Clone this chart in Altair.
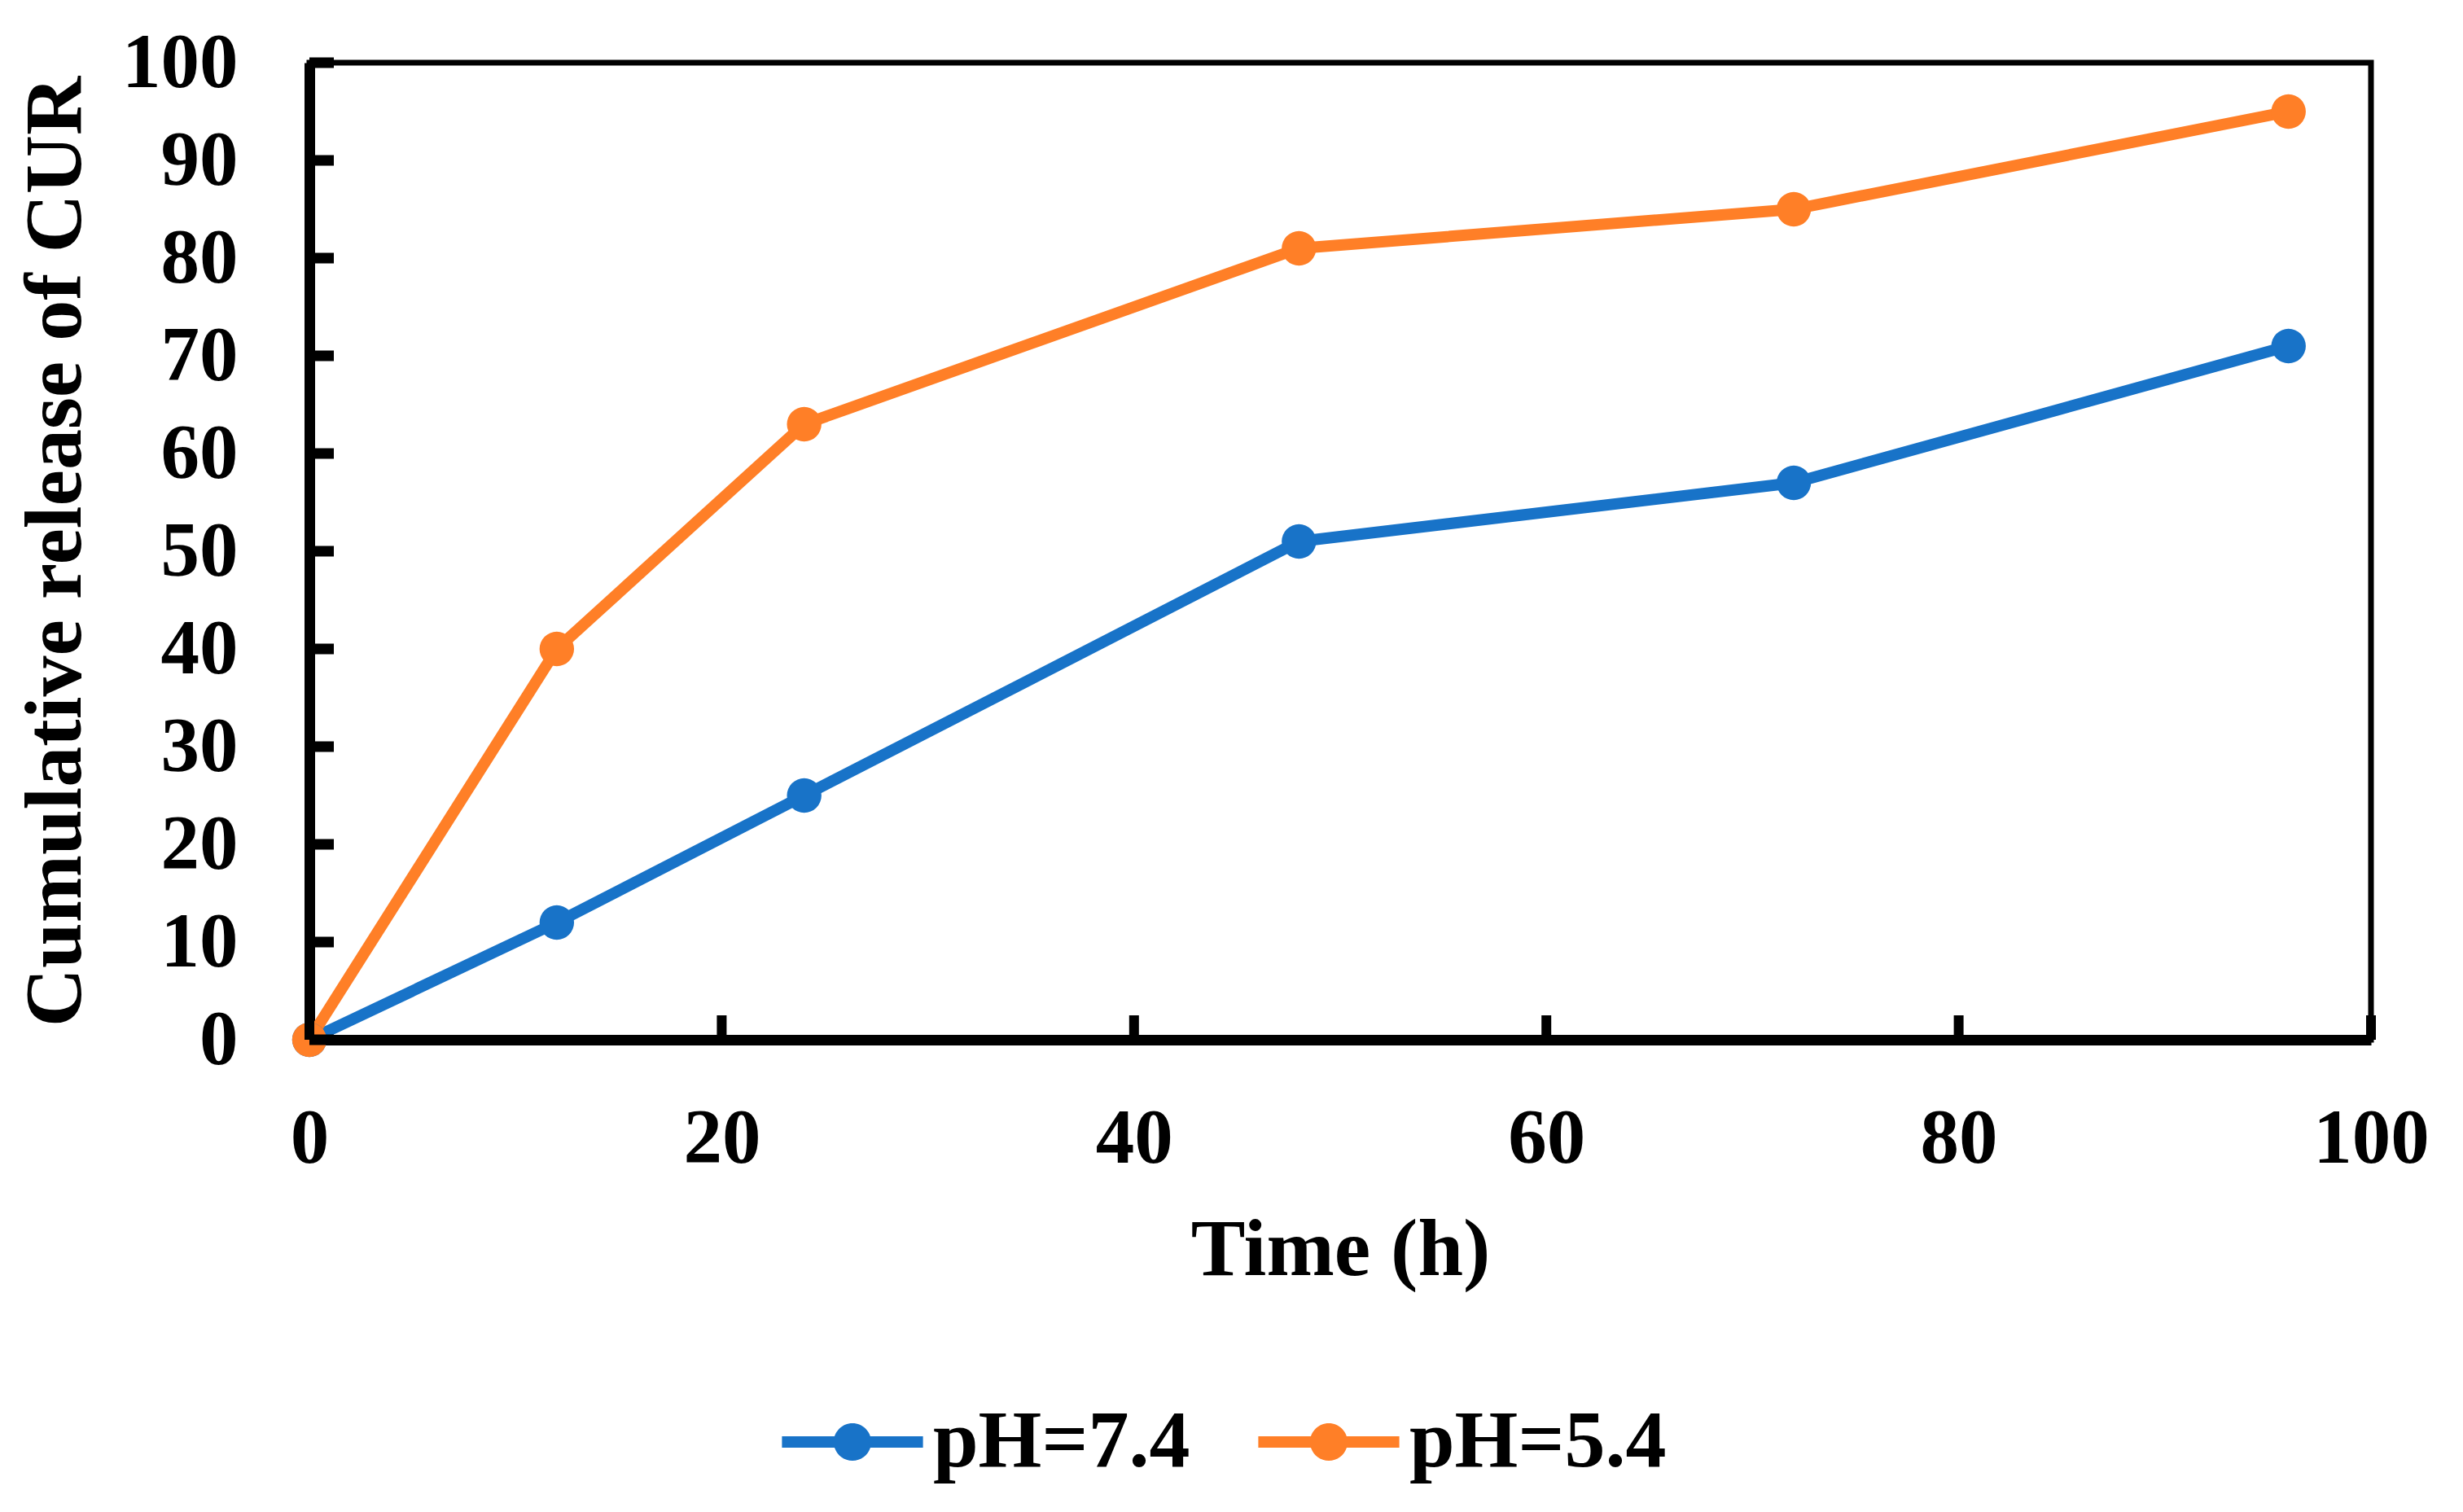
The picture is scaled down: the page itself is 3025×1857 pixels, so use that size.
import altair as alt
import pandas as pd

# ---- data ----
time_h = [0, 12, 24, 48, 72, 96]
release_ph74 = [0, 12, 25, 51, 57, 71]
release_ph54 = [0, 40, 63, 81, 85, 95]
series_names = ["pH=7.4", "pH=5.4"]
series_colors = ["#1873C8", "#FF7F27"]
x_ticks = [0, 20, 40, 60, 80, 100]
y_ticks = [0, 10, 20, 30, 40, 50, 60, 70, 80, 90, 100]

rows = []
for name, vals in zip(series_names, [release_ph74, release_ph54]):
    for t, v in zip(time_h, vals):
        rows.append({"Time": t, "Release": v, "Series": name})
df = pd.DataFrame(rows)

W, H = 2532, 1200
FONT = "Liberation Serif"

x_scale = alt.Scale(domain=[0, 100], nice=False, zero=False)
y_scale = alt.Scale(domain=[0, 100], nice=False)
color_scale = alt.Scale(domain=series_names, range=series_colors)

x_axis = alt.Axis(
    title="Time (h)", values=x_ticks, ticks=False, grid=False,
    labelPadding=75, titlePadding=40, domainWidth=13, domainColor="black",
    labelFontSize=95, titleFontSize=100, labelFont=FONT, titleFont=FONT,
    labelFontWeight="bold", titleFontWeight="bold",
    labelColor="black", titleColor="black", labelFlush=False, labelOverlap=False,
)
y_axis = alt.Axis(
    title="Cumulative release of CUR", values=y_ticks, ticks=False, grid=False,
    labelPadding=88, titlePadding=61, domainWidth=13, domainColor="black",
    labelFontSize=95, titleFontSize=100, labelFont=FONT, titleFont=FONT,
    labelFontWeight="bold", titleFontWeight="bold",
    labelColor="black", titleColor="black", labelFlush=False, labelOverlap=False,
)

legend_symbol = (
    "M-1,-0.08L1,-0.08L1,0.08L-1,0.08Z"
    "M-0.266,0A0.266,0.266 0 1,1 0.266,0A0.266,0.266 0 1,1 -0.266,0Z"
)

base = alt.Chart(df)

# one line layer per series, coloured from the series colour list
line_layers = []
for name, col in zip(series_names, series_colors):
    line_layers.append(
        base.transform_filter(alt.datum.Series == name)
        .mark_line(strokeWidth=14, strokeJoin="round", color=col)
        .encode(
            x=alt.X("Time:Q", scale=x_scale, axis=x_axis),
            y=alt.Y("Release:Q", scale=y_scale, axis=y_axis),
        )
    )

points = base.mark_point(filled=True, size=1800, opacity=1, shape="circle").encode(
    x=alt.X("Time:Q", scale=x_scale, axis=x_axis),
    y=alt.Y("Release:Q", scale=y_scale, axis=y_axis),
    color=alt.Color(
        "Series:N", scale=color_scale,
        legend=alt.Legend(
            title=None, orient="none", direction="horizontal",
            legendX=580, legendY=1607, padding=0,
            symbolType=legend_symbol, symbolSize=30000, symbolStrokeWidth=0,
            symbolOpacity=1, labelOffset=12, columnPadding=83,
            labelFont=FONT, labelFontSize=100, labelFontWeight="bold",
            labelColor="black", labelLimit=0,
        ),
    ),
)

xticks_layer = alt.Chart(pd.DataFrame({"t": x_ticks})).mark_rule(
    color="black", strokeWidth=12
).encode(
    x=alt.X("t:Q", scale=x_scale, axis=x_axis),
    y=alt.value(H),
    y2=alt.value(H - 30),
)

yticks_layer = alt.Chart(pd.DataFrame({"v": y_ticks})).mark_rule(
    color="black", strokeWidth=13
).encode(
    y=alt.Y("v:Q", scale=y_scale, axis=y_axis),
    x=alt.value(0),
    x2=alt.value(30),
)

chart = alt.layer(*line_layers, points, xticks_layer, yticks_layer).properties(
    width=W,
    height=H,
    padding={"left": 372, "top": 69, "right": 100, "bottom": 572},
    autosize=alt.AutoSizeParams(type="none"),
    background="white",
).configure_view(stroke="black", strokeWidth=7)

chart.save("out.html", embed_options={"renderer": "svg", "actions": False})
